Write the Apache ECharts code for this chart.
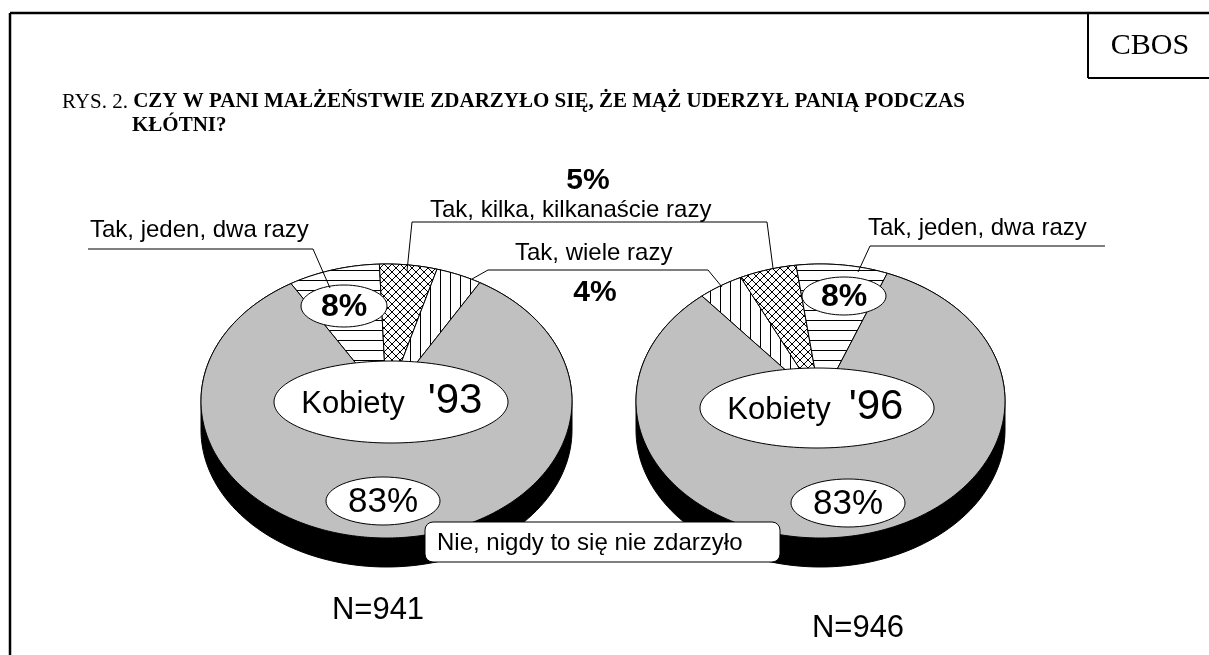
<!DOCTYPE html>
<html>
<head>
<meta charset="utf-8">
<script src="https://cdn.jsdelivr.net/npm/echarts@6/dist/echarts.min.js"></script>
<style>
  html, body { margin: 0; padding: 0; background: #fff; }
  #chart { width: 1209px; height: 655px; }
</style>
</head>
<body>
<div id="chart"></div>
<script>
// dane z rysunku
const categories = ['Nie, nigdy to się nie zdarzyło', 'Tak, jeden, dwa razy', 'Tak, kilka, kilkanaście razy', 'Tak, wiele razy'];
const values93 = [83, 8, 5, 4];
const values96 = [83, 8, 5, 4];
const sampleN = [941, 946];
const pieYears = ["'93", "'96"];
// kolejność wycinków zgodnie z ruchem wskazówek zegara
const order93 = [1, 2, 3, 0];
const order96 = [3, 2, 1, 0];

const SANS = '"Liberation Sans", Arial, sans-serif';
const SERIF = '"Liberation Serif", "Times New Roman", serif';

// wzory kreskowania
function makePattern(kind) {
  const s = kind === 'cross' ? 8 : 10;
  const c = document.createElement('canvas');
  c.width = s; c.height = s;
  const g = c.getContext('2d');
  g.fillStyle = '#fff';
  g.fillRect(0, 0, s, s);
  g.strokeStyle = '#000';
  g.lineWidth = 1;
  g.beginPath();
  if (kind === 'h') { g.moveTo(0, 0.5); g.lineTo(s, 0.5); }
  else if (kind === 'v') { g.moveTo(0.5, 0); g.lineTo(0.5, s); }
  else { g.moveTo(0, 0); g.lineTo(s, s); g.moveTo(s, 0); g.lineTo(0, s); }
  g.stroke();
  return { image: c, repeat: 'repeat' };
}
const fills = ['#c0c0c0', makePattern('h'), makePattern('cross'), makePattern('v')];

// układ
const pieBoxes = [
  { left: 201, top: 264, width: 371, height: 274, start: -31 },
  { left: 636, top: 264, width: 369, height: 274, start: -40 }
];
const depth = 29;

function sliceData(values, order) {
  let acc = 0;
  return order.map(i => {
    const d = [acc, acc + values[i], i];
    acc += values[i];
    return d;
  });
}

function sliceRenderer(startDeg) {
  return function (params, api) {
    const a0 = (startDeg + api.value(0) * 3.6) * Math.PI / 180;
    const a1 = (startDeg + api.value(1) * 3.6) * Math.PI / 180;
    const cat = api.value(2);
    const steps = Math.max(6, Math.round((a1 - a0) * 60));
    const pts = [api.coord([0, 0])];
    for (let k = 0; k <= steps; k++) {
      const a = a0 + (a1 - a0) * k / steps;
      pts.push(api.coord([Math.sin(a), Math.cos(a)]));
    }
    return {
      type: 'polygon',
      shape: { points: pts },
      style: { fill: fills[cat], stroke: '#000', lineWidth: 1 }
    };
  };
}

// czarna podstawa (bok "tortu")
function baseRenderer(params, api) {
  const pts = [];
  for (let k = 0; k <= 90; k++) {
    const a = Math.PI / 2 + Math.PI * k / 90;
    const p = api.coord([Math.sin(a), Math.cos(a)]);
    pts.push([p[0], p[1] + depth]);
  }
  for (let k = 0; k <= 90; k++) {
    const a = 1.5 * Math.PI + Math.PI * k / 90;
    pts.push(api.coord([Math.sin(a), Math.cos(a)]));
  }
  return { type: 'polygon', shape: { points: pts }, style: { fill: '#000', stroke: '#000', lineWidth: 1 } };
}

const pies = [
  { values: values93, order: order93 },
  { values: values96, order: order96 }
];

const series = [];
pies.forEach((p, i) => {
  series.push({
    type: 'custom', xAxisIndex: i, yAxisIndex: i, z: 1, silent: true,
    renderItem: baseRenderer, data: [[0, 0]]
  });
  series.push({
    type: 'custom', xAxisIndex: i, yAxisIndex: i, z: 2, silent: true,
    renderItem: sliceRenderer(pieBoxes[i].start),
    data: sliceData(p.values, p.order)
  });
});

function txt(text, x, y, font, align, valign) {
  return {
    type: 'text', z: 100, silent: true,
    style: { text, x, y, font, fill: '#000', textAlign: align || 'center', textVerticalAlign: valign || 'middle' }
  };
}
function line(x1, y1, x2, y2, w) {
  return { type: 'line', z: 100, silent: true, shape: { x1, y1, x2, y2 }, style: { stroke: '#000', lineWidth: w || 1 } };
}
function poly(points) {
  return { type: 'polyline', z: 100, silent: true, shape: { points }, style: { stroke: '#000', lineWidth: 1, fill: null } };
}
function oval(cx, cy, rx, ry) {
  return { type: 'ellipse', z: 99, silent: true, shape: { cx, cy, rx, ry }, style: { fill: '#fff', stroke: '#000', lineWidth: 1 } };
}

// etykiety wartości
const pct = v => v + '%';
const labelBoxes = [
  { small: [344, 306, 43, 21], main: [391, 402, 117, 41], big: [383, 501, 57, 24], kob: 353, year: 455, mainY: 404 },
  { small: [844, 296, 42, 19], main: [817, 408, 117, 40], big: [848, 503, 57, 24], kob: 779, year: 876, mainY: 410 }
];

const graphic = [
  line(10, 13, 1209, 13, 2.5),
  line(10, 13, 10, 655, 2.5),
  line(1088, 13, 1088, 78, 2),
  line(1088, 78, 1209, 78, 2),
  txt('CBOS', 1150, 46, '30px ' + SERIF),
  {
    type: 'text', z: 100, silent: true,
    style: {
      text: '{n|RYS. 2. }{b|CZY W PANI MAŁŻEŃSTWIE ZDARZYŁO SIĘ, ŻE MĄŻ UDERZYŁ PANIĄ PODCZAS}',
      x: 62, y: 102, textAlign: 'left', textVerticalAlign: 'middle',
      rich: {
        n: { font: '21px ' + SERIF, fill: '#000' },
        b: { font: 'bold 21px ' + SERIF, fill: '#000' }
      }
    }
  },
  txt('KŁÓTNI?', 132, 126, 'bold 21px ' + SERIF, 'left'),

  // opisy kategorii z liniami odniesienia
  txt(categories[1], 90, 230, '24px ' + SANS, 'left'),
  poly([[88, 249], [313, 249], [330, 288]]),
  txt(categories[1], 868, 228, '24px ' + SANS, 'left'),
  poly([[1105, 246], [870, 246], [858, 272]]),
  txt(pct(values93[2]), 588, 181, 'bold 30px ' + SANS),
  txt(categories[2], 430, 210, '24px ' + SANS, 'left'),
  poly([[407, 271], [412, 222], [767, 222], [773, 268]]),
  txt(categories[3], 515, 253, '24px ' + SANS, 'left'),
  poly([[472, 279], [488, 270], [708, 270], [722, 287]]),
  txt(pct(values93[3]), 595, 293, 'bold 30px ' + SANS),

  // ramka "Nie, nigdy..."
  { type: 'rect', z: 99, silent: true, shape: { x: 425, y: 522, width: 355, height: 40, r: 8 }, style: { fill: '#fff', stroke: '#000', lineWidth: 1 } },
  txt(categories[0], 437, 543, '24px ' + SANS, 'left'),

  txt('N=' + sampleN[0], 378, 610, '31px ' + SANS),
  txt('N=' + sampleN[1], 858, 628, '31px ' + SANS)
];

pies.forEach((p, i) => {
  const b = labelBoxes[i];
  graphic.push(oval(...b.small), txt(pct(p.values[1]), b.small[0], b.small[1] + 1, 'bold 32px ' + SANS));
  graphic.push(oval(...b.main), txt('Kobiety', b.kob, b.mainY, '31px ' + SANS), txt(pieYears[i], b.year, b.mainY - 3, '42px ' + SANS));
  graphic.push(oval(...b.big), txt(pct(p.values[0]), b.big[0], b.big[1] + 1, '35px ' + SANS));
});

const chart = echarts.init(document.getElementById('chart'), null, { renderer: 'canvas' });
chart.setOption({
  animation: false,
  backgroundColor: '#fff',
  grid: pieBoxes.map(b => ({ left: b.left, top: b.top, width: b.width, height: b.height })),
  xAxis: pieBoxes.map((b, i) => ({ type: 'value', gridIndex: i, min: -1, max: 1, show: false })),
  yAxis: pieBoxes.map((b, i) => ({ type: 'value', gridIndex: i, min: -1, max: 1, show: false })),
  series,
  graphic
});
</script>
</body>
</html>
